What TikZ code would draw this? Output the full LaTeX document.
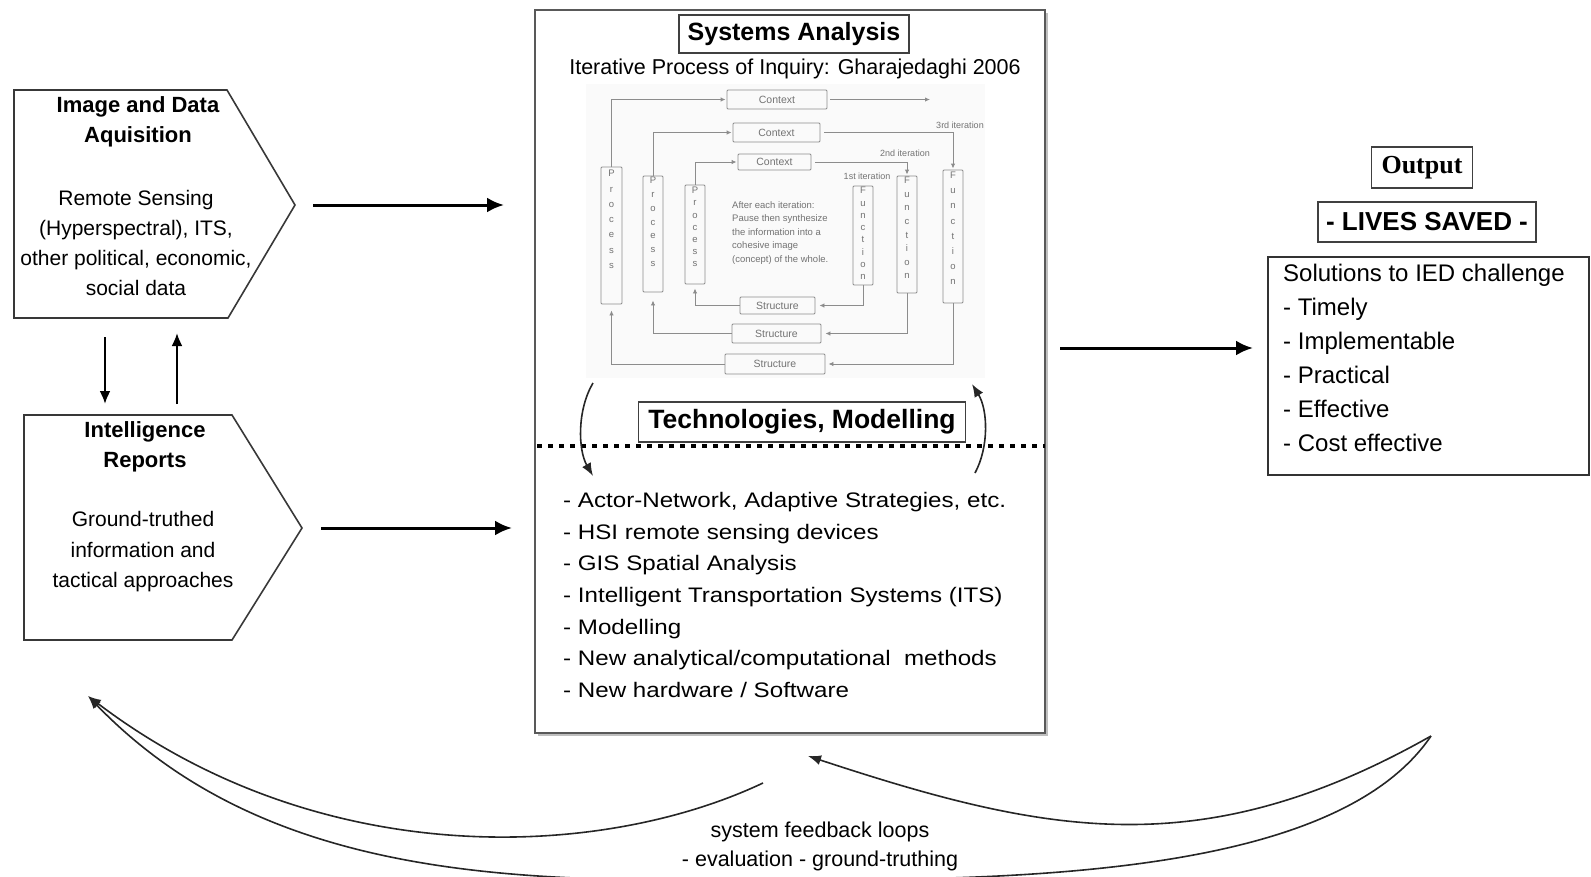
\documentclass[tikz,border=0pt]{standalone}
\usepackage{fontspec}
\setmainfont{Liberation Sans}
\newfontfamily\serifbold{Liberation Serif}
\newfontfamily\widesans[FakeStretch=1.15]{Liberation Sans}
\usetikzlibrary{arrows.meta}
\newcommand\myfs[2]{\fontsize{#1}{#2}\selectfont}
\begin{document}
\begin{tikzpicture}[x=1pt,y=-1pt,
  txt/.style={inner sep=0pt, align=center},
  boxline/.style={draw=black!78, line width=1.6pt},
  bigarrow/.style={line width=3pt, -{Latex[length=17pt,width=15pt]}},
  midarrow/.style={line width=2.2pt, -{Latex[length=13pt,width=11pt]}},
  curvearrow/.style={line width=1.6pt, draw=black!85, -{Latex[length=13pt,width=10pt]}},
  curveline/.style={line width=1.6pt, draw=black!85},
  sbox/.style={draw=black!45, line width=0.9pt, rounded corners=1pt, inner sep=0pt, font=\myfs{10.5}{12}\color{black!55}},
  sarrow/.style={draw=black!45, line width=0.9pt, -{Latex[length=5pt,width=4.5pt]}, shorten >=1pt},
  vlet/.style={inner sep=0pt, anchor=north, align=center, text=black!55},
  smalltxt/.style={inner sep=0pt, text=black!55, font=\myfs{9}{11}},
  titlebox/.style={draw=black!75, line width=1.4pt, inner sep=0pt}
]
\useasboundingbox (0,0) rectangle (1591,876);

% ---------------- left pentagons ----------------
\draw[boxline] (14,90) -- (227,90) -- (295,205) -- (228,318) -- (14,318) -- cycle;
\node[txt, font=\bfseries\myfs{22}{29.5}] (t1) at (138,122) {Image and Data\\Aquisition};
\node[txt, font=\myfs{21}{30}] (b1) at (136,243) {Remote Sensing\\(Hyperspectral), ITS,\\other political, economic,\\social data};

\draw[boxline] (24,415) -- (232,415) -- (302,528) -- (232,640) -- (24,640) -- cycle;
\node[txt, font=\bfseries\myfs{22}{30}] (t2) at (145,447) {Intelligence\\Reports};
\node[txt, font=\myfs{21}{30.5}] (b2) at (143,552) {Ground-truthed\\information and\\tactical approaches};

\coordinate (d1s) at (105,337); \coordinate (d1e) at (105,404);
\coordinate (u1s) at (177,404); \coordinate (u1e) at (177,333);
\draw[midarrow] (d1s) -- (d1e);
\draw[midarrow] (u1s) -- (u1e);

\coordinate (a1s) at (313,205); \coordinate (a1e) at (504,205);
\coordinate (a2s) at (321,528); \coordinate (a2e) at (512,528);
\draw[bigarrow] (a1s) -- (a1e);
\draw[bigarrow] (a2s) -- (a2e);

% ---------------- centre box ----------------
\draw[draw=black!25, line width=1.5pt] (538,735) -- (1047,735) -- (1047,13);
\draw[draw=black!65, line width=1.4pt] (535,10) rectangle (1045,733);
\node[titlebox, minimum width=230pt, minimum height=38pt, font=\bfseries\myfs{25}{28}] (sa) at (794,34) {Systems Analysis};
\node[txt, font=\myfs{21.5}{24}] (ip) at (795,69) {Iterative Process of Inquiry: Gharajedaghi 2006};

% inner diagram
\fill[black!2] (586,84) rectangle (985,378);
\node[sbox, minimum width=100pt, minimum height=19pt] (c1) at (777,99.5) {Context};
\node[sbox, minimum width=87pt, minimum height=19pt] (c2) at (776.5,132.5) {Context};
\node[sbox, minimum width=73pt, minimum height=16pt] (c3) at (774.5,162) {Context};
\node[sbox, minimum width=75pt, minimum height=17pt] (s1) at (777.5,305.5) {Structure};
\node[sbox, minimum width=89pt, minimum height=19pt] (s2) at (776.5,333.5) {Structure};
\node[sbox, minimum width=100pt, minimum height=20pt] (s3) at (775,364) {Structure};
\node[sbox, minimum width=21pt, minimum height=137pt] (p1) at (611.5,235.5) {};
\node[sbox, minimum width=20pt, minimum height=116pt] (p2) at (653,234) {};
\node[sbox, minimum width=20pt, minimum height=99pt] (p3) at (695,234.5) {};
\node[sbox, minimum width=20pt, minimum height=99pt] (f1) at (863,235.5) {};
\node[sbox, minimum width=20pt, minimum height=117pt] (f2) at (907,234.5) {};
\node[sbox, minimum width=20pt, minimum height=133pt] (f3) at (953,236.5) {};

\node[vlet, font=\myfs{9.5}{15.3}] (p1t) at (611.5,170) {P\\r\\o\\c\\e\\s\\s};
\node[vlet, font=\myfs{9.5}{13.8}] (p2t) at (653,177) {P\\r\\o\\c\\e\\s\\s};
\node[vlet, font=\myfs{9.5}{12.2}] (p3t) at (695,187) {P\\r\\o\\c\\e\\s\\s};
\node[vlet, font=\myfs{9.5}{12.3}] (f1t) at (863,187) {F\\u\\n\\c\\t\\i\\o\\n};
\node[vlet, font=\myfs{9.5}{13.6}] (f2t) at (907,177) {F\\u\\n\\c\\t\\i\\o\\n};
\node[vlet, font=\myfs{9.5}{15.1}] (f3t) at (953,172) {F\\u\\n\\c\\t\\i\\o\\n};

\coordinate (c1end) at (931,99.5);
\draw[sarrow] (p1.north) |- (c1.west);
\draw[sarrow, shorten <=3pt] (c1.east) -- (c1end);
\draw[sarrow, shorten >=3pt] (f3.south) |- (s3.east);
\draw[sarrow, shorten >=6pt] (s3.west) -| (p1.south);

\draw[sarrow] (p2.north) |- (c2.west);
\draw[sarrow, shorten <=4pt] (c2.east) -| (f3.north);
\draw[sarrow, shorten >=4pt] (f2.south) |- (s2.east);
\draw[sarrow, shorten >=8pt] (s2.west) -| (p2.south);

\draw[sarrow] (p3.north) |- (c3.west);
\draw[sarrow, shorten <=4pt] (c3.east) -| (f2.north);
\draw[sarrow, shorten >=4pt] (f1.south) |- (s1.east);
\draw[sarrow, shorten >=4pt] (s1.west) -| (p3.south);

\node[smalltxt] (i3) at (960,125) {3rd iteration};
\node[smalltxt] (i2) at (905,153) {2nd iteration};
\node[smalltxt] (i1) at (867,176) {1st iteration};
\node[smalltxt, anchor=north west, align=left, font=\myfs{9.5}{13.6}] (syn) at (732,201)
  {After each iteration:\\Pause then synthesize\\the information into a\\cohesive image\\(concept) of the whole.};

% technologies
\draw[line width=4pt, dash pattern=on 4.5pt off 6.5pt] (537,446) -- (1045,446);
\node[titlebox, fill=white, minimum width=327pt, minimum height=40pt, font=\bfseries\myfs{26.5}{28}] (tm) at (802,422) {Technologies, Modelling};
\coordinate (la) at (593,383); \coordinate (lb) at (593,476);
\coordinate (ra) at (975,473); \coordinate (rb) at (972,384);
\draw[curvearrow] (la) .. controls (577,410) and (578,450) .. (lb);
\draw[curvearrow] (ra) .. controls (989,447) and (988,410) .. (rb);

\node[txt, anchor=west, align=left, font=\widesans\myfs{21}{31.7}] (list) at (563,595)
 {- Actor-Network, Adaptive Strategies, etc.\\- HSI remote sensing devices\\- GIS Spatial Analysis\\- Intelligent Transportation Systems (ITS)\\- Modelling\\- New analytical/computational\ \ methods\\- New hardware / Software};

% ---------------- output ----------------
\coordinate (a3s) at (1060,348); \coordinate (a3e) at (1253,348);
\draw[bigarrow] (a3s) -- (a3e);
\node[titlebox, minimum width=101pt, minimum height=41pt, font=\serifbold\bfseries\myfs{26}{28}] (out) at (1422,167.5) {Output};
\node[titlebox, minimum width=218pt, minimum height=40pt, font=\bfseries\myfs{26}{28}] (lives) at (1427,222) {- LIVES SAVED -};
\draw[draw=black!80, line width=1.5pt] (1268,257) rectangle (1589,475);
\node[txt, anchor=west, align=left, font=\myfs{24}{34}] (sol) at (1283,358)
 {Solutions to IED challenge\\- Timely\\- Implementable\\- Practical\\- Effective\\- Cost effective};

% ---------------- feedback loops ----------------
\coordinate (rt) at (1431,736);
\coordinate (lt) at (88,696);
\coordinate (ms) at (763,783);
\coordinate (mt) at (808,756);
\coordinate (bot) at (800,880);
\draw[curveline] (rt) .. controls (1340,870) and (1050,880) .. (bot);
\draw[curvearrow] (bot) .. controls (560,880) and (280,895) .. (lt);
\draw[curvearrow] (ms) .. controls (600,860) and (320,872) .. (lt);
\draw[curvearrow] (rt) .. controls (1201,866) and (1045,834) .. (mt);
\node[txt, font=\myfs{21.5}{29}] (fb) at (820,846) {system feedback loops\\- evaluation - ground-truthing};
\end{tikzpicture}
\end{document}
